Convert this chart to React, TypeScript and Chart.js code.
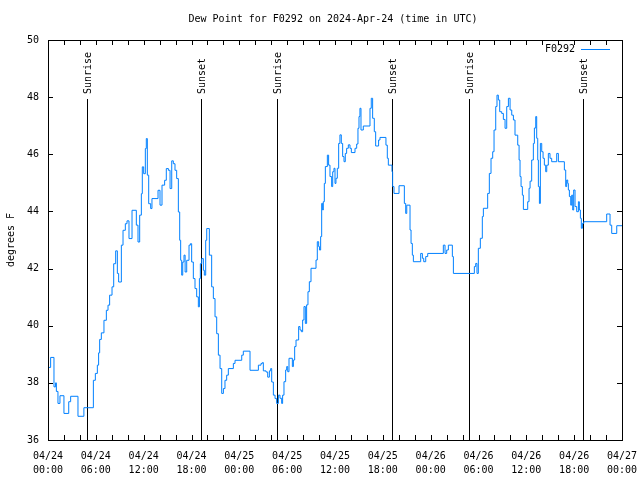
import React, { useEffect, useRef } from "react";
import { Chart, registerables } from "chart.js";

Chart.register(...registerables);

const chartTitle = "Dew Point for F0292 on 2024-Apr-24 (time in UTC)";
const yAxisTitle = "degrees F";
const seriesName = "F0292";

// hours since 2024-04-24 00:00 UTC
const hours = [
  0, 0.33, 0.75, 0.95, 1.05, 1.25, 1.5, 2.0, 2.6, 2.84, 3.76, 4.5, 5.69, 5.94, 6.19, 6.35, 6.48, 6.69, 7.02, 7.32,
  7.53, 7.73, 8.03, 8.24, 8.49, 8.7, 8.86, 9.2, 9.41, 9.7, 9.91, 10.16, 10.54, 11.08, 11.29, 11.5, 11.71, 11.83, 12.0,
  12.21, 12.33, 12.46, 12.63, 12.88, 13.04, 13.8, 14.05, 14.3, 14.63, 14.84,
  15.1, 15.31, 15.52, 15.72, 15.93, 16.14, 16.35, 16.52, 16.64, 16.77, 16.9, 17.06, 17.2, 17.4, 17.69, 17.86, 18.02,
  18.23, 18.44, 18.65, 18.86, 18.99, 19.11, 19.28, 19.49, 19.61, 19.78, 19.91, 20.24, 20.53, 20.74, 20.95, 21.16,
  21.37, 21.58, 21.79, 22.0, 22.2, 22.41, 22.62, 23.25, 23.46, 24.3, 24.5, 25.34, 26.39, 26.72, 26.89, 27.01, 27.35,
  27.56, 27.77, 27.93, 28.06, 28.27, 28.48, 28.68, 28.9,
  29.1, 29.31, 29.43, 29.6, 29.81, 29.94, 30.07, 30.23, 30.65, 30.78, 30.94, 31.11, 31.44, 31.61, 31.78, 31.94, 32.11,
  32.28, 32.44, 32.61, 32.78, 32.99, 33.62, 33.78, 33.95, 34.05, 34.2, 34.33, 34.45, 34.53, 34.66, 34.79, 35.04, 35.2,
  35.37, 35.58, 35.71, 35.87, 36.0, 36.12, 36.29, 36.46, 36.62, 36.79, 36.96, 37.13, 37.29, 37.46, 37.67, 37.88, 38.05,
  38.51, 38.72, 38.88, 39.01, 39.13, 39.26, 39.55, 40.39, 40.55, 40.72, 40.93, 41.1, 41.47, 41.64, 42.39, 42.56, 42.69,
  43.15, 43.23, 43.4,
  44.03, 44.7, 44.87, 45.0, 45.41, 45.54, 45.7, 45.83, 46.75, 46.96, 47.13, 47.38, 47.63, 49.59, 49.8, 50.01, 50.22,
  50.72, 50.85, 53.48, 53.65, 53.81, 53.98, 54.23, 54.48, 54.61, 55.15, 55.36, 55.57, 55.78, 55.95, 56.16, 56.32, 56.49,
  56.66, 56.91, 57.12,
  57.33, 57.54, 57.75, 57.96, 58.17, 58.38, 58.58, 58.92, 59.09, 59.21, 59.34, 59.5, 59.63, 60.17, 60.34, 60.47, 60.67,
  60.88, 61.01, 61.18, 61.3, 61.43, 61.51, 61.64, 61.76, 61.93, 62.1, 62.26, 62.43, 62.56, 62.76, 62.97, 63.18, 63.81,
  64.02, 64.77, 64.94, 65.06, 65.19, 65.27, 65.4, 65.57, 65.69, 65.82, 65.94, 66.11, 66.32, 66.53, 66.65, 66.78, 66.9,
  67.03, 67.2, 70.08, 70.5, 70.71, 71.34, 72,
];

const dewF = [
  38.54, 38.89, 37.86, 38.0, 37.7, 37.28, 37.55, 36.93, 37.34, 37.53, 36.83, 37.13, 38.09, 38.33, 38.62, 39.05, 39.52,
  39.75, 40.19, 40.54, 40.72, 41.07, 41.36, 42.17, 42.62, 41.83, 41.53, 42.82, 43.34, 43.57, 43.67, 43.05, 44.04, 43.52,
  42.93, 43.87, 44.62, 45.56, 45.32, 46.2, 46.55, 45.27, 44.27, 44.1, 44.45, 44.74, 44.22, 44.92, 45.09, 45.5,
  45.44, 44.8, 45.77, 45.67, 45.44, 45.15, 43.98, 42.99, 42.29, 41.77, 42.23, 42.47, 41.88, 42.29, 42.82, 42.87, 42.23,
  41.65, 41.3, 41.01, 40.66, 41.65, 42.17, 42.35, 41.94, 41.77, 42.99, 43.4, 42.47, 41.36, 40.95, 40.31, 39.72, 38.97,
  38.5, 37.63, 37.8, 38.09, 38.27, 38.5, 38.68, 38.79, 38.97, 39.11, 38.44, 38.62, 38.68, 38.71, 38.42, 38.38, 38.2,
  38.42, 38.5, 38.03, 37.57, 37.45, 37.28, 37.57,
  37.46, 37.28, 37.57, 38.04, 38.45, 38.57, 38.39, 38.86, 38.57, 38.8, 39.27, 39.5, 39.97, 39.85, 39.79, 40.2, 40.67,
  40.08, 40.73, 41.19, 41.54, 42.01, 42.3, 42.94, 42.77, 42.65, 43.12, 44.28, 44.05, 44.34, 44.98, 45.57, 45.97, 45.62,
  45.22, 44.87, 45.39, 45.51, 44.98, 45.16, 45.51, 46.38, 46.68, 46.38, 45.92, 45.74, 46.03, 46.21, 46.33, 46.21, 46.06,
  46.21, 46.36, 46.91, 47.32, 47.61, 46.85, 46.99, 47.61, 47.96, 47.26, 46.79, 46.29, 46.5, 46.59, 46.32, 45.86, 45.62,
  45.39, 44.87, 44.63,
  44.9, 44.28, 43.93, 44.22, 43.35, 42.88, 42.47, 42.24, 42.53, 42.36, 42.24, 42.42, 42.53, 42.82, 42.53, 42.65, 42.82,
  42.42, 41.83, 42.07, 42.18, 41.83, 42.71, 43.06, 43.82, 44.11, 44.63, 45.33, 45.86, 46.09, 46.85, 47.67, 48.07, 47.9,
  47.49, 47.43, 47.22,
  46.91, 47.67, 47.96, 47.55, 47.37, 47.2, 46.67, 46.32, 45.8, 45.22, 44.87, 44.57, 44.07, 44.34, 44.81, 45.06, 45.8,
  46.38, 46.92, 47.32, 46.56, 45.8, 44.87, 44.28, 46.38, 46.09, 45.86, 45.62, 45.39, 45.62, 46.03, 45.86, 45.74, 46.03,
  45.74, 45.45, 44.87, 45.1, 44.98, 44.75, 44.52, 44.22, 44.57, 44.05, 44.75, 44.17, 43.99, 44.34, 44.05, 43.76, 43.41,
  43.58, 43.64, 43.91, 43.52, 43.23, 43.5, 43.5,
];

const sunEventHours = [4.83, 19.15, 28.72, 43.18, 52.82, 67.15];
const sunEventLabels = ["Sunrise", "Sunset", "Sunrise", "Sunset", "Sunrise", "Sunset"];

const xTickHours = [0, 6, 12, 18, 24, 30, 36, 42, 48, 54, 60, 66, 72];
const xTickLabels = [
  ["04/24", "00:00"], ["04/24", "06:00"], ["04/24", "12:00"], ["04/24", "18:00"],
  ["04/25", "00:00"], ["04/25", "06:00"], ["04/25", "12:00"], ["04/25", "18:00"],
  ["04/26", "00:00"], ["04/26", "06:00"], ["04/26", "12:00"], ["04/26", "18:00"],
  ["04/27", "00:00"],
];
const yTickValues = [36, 38, 40, 42, 44, 46, 48, 50];

const LINE_COLOR = "rgb(0,128,255)";
const FONT = "10px 'DejaVu Sans Mono'";

const gnuplotDecor = {
  id: "gnuplotDecor",
  beforeDatasetsDraw(chart: any) {
    const { ctx, chartArea, scales } = chart;
    const xs = scales.x;
    ctx.save();
    ctx.strokeStyle = "#000";
    ctx.lineWidth = 1;
    ctx.fillStyle = "#000";
    ctx.font = FONT;
    sunEventHours.forEach((h, i) => {
      const px = Math.round(xs.getPixelForValue(h)) + 0.5;
      ctx.beginPath();
      ctx.moveTo(px, 99);
      ctx.lineTo(px, chartArea.bottom);
      ctx.stroke();
      ctx.save();
      ctx.translate(px + 1, 94);
      ctx.rotate(-Math.PI / 2);
      ctx.textAlign = "left";
      ctx.textBaseline = "middle";
      ctx.fillText(sunEventLabels[i], 0, 0);
      ctx.restore();
    });
    ctx.restore();
  },
  afterDraw(chart: any) {
    const { ctx, chartArea, scales } = chart;
    const xs = scales.x;
    const ys = scales.y;
    const { left, right, top, bottom } = chartArea;
    ctx.save();
    ctx.strokeStyle = "#000";
    ctx.lineWidth = 1;
    ctx.strokeRect(Math.round(left) + 0.5, Math.round(top) + 0.5, Math.round(right - left), Math.round(bottom - top));
    yTickValues.forEach((v) => {
      const py = Math.round(ys.getPixelForValue(v)) + 0.5;
      ctx.beginPath();
      ctx.moveTo(left, py);
      ctx.lineTo(left + 5, py);
      ctx.moveTo(right, py);
      ctx.lineTo(right - 5, py);
      ctx.stroke();
    });
    for (let h = 0; h <= 72; h += 2) {
      const px = Math.round(xs.getPixelForValue(h)) + 0.5;
      ctx.beginPath();
      ctx.moveTo(px, bottom);
      ctx.lineTo(px, bottom - 5);
      ctx.moveTo(px, top);
      ctx.lineTo(px, top + 5);
      ctx.stroke();
    }
    ctx.fillStyle = "#000";
    ctx.font = FONT;
    ctx.textAlign = "center";
    ctx.textBaseline = "middle";
    ctx.fillText(chartTitle, (left + right) / 2 - 2, 19);
    ctx.save();
    ctx.translate(11, (top + bottom) / 2);
    ctx.rotate(-Math.PI / 2);
    ctx.textAlign = "center";
    ctx.textBaseline = "middle";
    ctx.fillText(yAxisTitle, 0, 0);
    ctx.restore();
    ctx.textAlign = "right";
    ctx.textBaseline = "middle";
    ctx.fillText(seriesName, 575, 49);
    ctx.strokeStyle = LINE_COLOR;
    ctx.beginPath();
    ctx.moveTo(581, 49.5);
    ctx.lineTo(610, 49.5);
    ctx.stroke();
    ctx.restore();
  },
};

export default function App() {
  const canvasRef = useRef<HTMLCanvasElement | null>(null);

  useEffect(() => {
    if (!canvasRef.current) return;
    const points = hours.map((h, i) => ({ x: h, y: dewF[i] }));
    const chart = new Chart(canvasRef.current, {
      type: "line",
      data: {
        datasets: [
          {
            label: seriesName,
            data: points,
            borderColor: LINE_COLOR,
            borderWidth: 1,
            pointRadius: 0,
            tension: 0,
            stepped: "before",
            fill: false,
          },
        ],
      },
      options: {
        animation: false,
        responsive: false,
        devicePixelRatio: 1,
        layout: { padding: { left: 0, right: 18, top: 40, bottom: 0 } },
        plugins: { legend: { display: false }, title: { display: false }, tooltip: { enabled: false } },
        scales: {
          x: {
            type: "linear",
            min: 0,
            max: 72,
            afterBuildTicks: (scale: any) => {
              scale.ticks = xTickHours.map((v) => ({ value: v }));
            },
            afterFit: (scale: any) => {
              scale.height = 40;
              scale.paddingLeft = 0;
              scale.paddingRight = 0;
            },
            grid: { display: false, drawTicks: false },
            border: { display: false },
            ticks: {
              autoSkip: false,
              maxRotation: 0,
              minRotation: 0,
              padding: 9,
              color: "#000",
              font: { family: "'DejaVu Sans Mono'", size: 10, lineHeight: 1.4 },
              callback: (value: any) => {
                const idx = xTickHours.indexOf(Number(value));
                return idx >= 0 ? xTickLabels[idx] : "";
              },
            },
          },
          y: {
            type: "linear",
            min: 36,
            max: 50,
            afterBuildTicks: (scale: any) => {
              scale.ticks = yTickValues.map((v) => ({ value: v }));
            },
            afterFit: (scale: any) => {
              scale.width = 48;
              scale.paddingTop = 0;
              scale.paddingBottom = 0;
            },
            grid: { display: false, drawTicks: false },
            border: { display: false },
            ticks: {
              padding: 9,
              color: "#000",
              font: { family: "'DejaVu Sans Mono'", size: 10 },
              callback: (value: any) => String(value),
            },
          },
        },
      },
      plugins: [gnuplotDecor],
    });
    return () => chart.destroy();
  }, []);

  return (
    <div style={{ position: "absolute", left: 0, top: 0, width: 640, height: 480, background: "#fff" }}>
      <canvas ref={canvasRef} width={640} height={480} />
    </div>
  );
}
